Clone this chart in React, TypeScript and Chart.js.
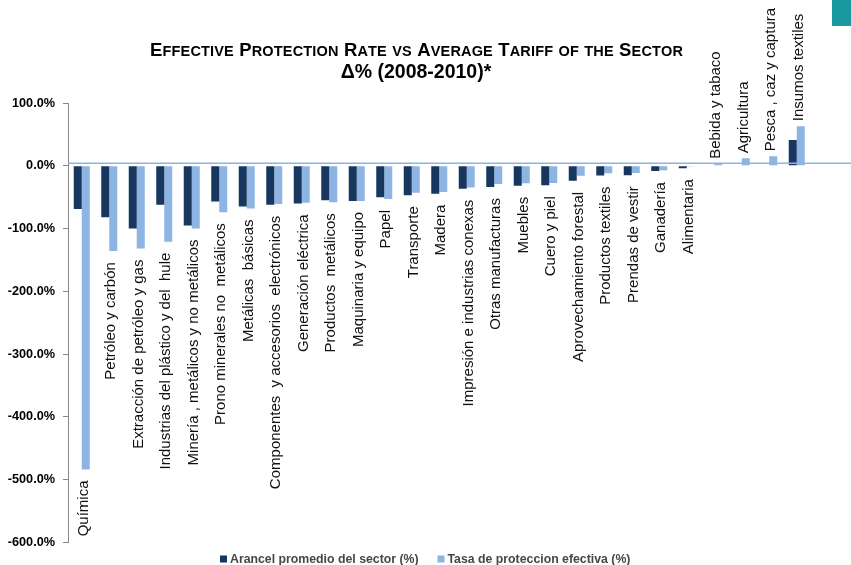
import React, { useEffect, useRef } from "react";
import { Chart, registerables } from "chart.js";

Chart.register(...registerables);

const categories = [
  "Química",
  "Petróleo y carbón",
  "Extracción de petróleo y gas",
  "Industrias del plástico y del  hule",
  "Minería , metálicos y no metálicos",
  "Prono minerales no  metálicos",
  "Metálicas  básicas",
  "Componentes  y accesorios  electrónicos",
  "Generación eléctrica",
  "Productos  metálicos",
  "Maquinaria y equipo",
  "Papel",
  "Transporte",
  "Madera",
  "Impresión e industrias conexas",
  "Otras manufacturas",
  "Muebles",
  "Cuero y piel",
  "Aprovechamiento forestal",
  "Productos textiles",
  "Prendas de vestir",
  "Ganadería",
  "Alimentaria",
  "Bebida y tabaco",
  "Agricultura",
  "Pesca , caz y captura",
  "Insumos textiles",
];

const arancelPromedio = [
  -69, -82, -100, -62, -95, -57, -65, -62, -60, -55, -56, -50, -47, -44.5,
  -36.5, -34, -32, -31, -24, -15.5, -15, -8.5, -3.8, 0, 0, 0, 41,
];

const tasaProteccion = [
  -484, -136, -132, -121, -100, -74, -68, -61, -59, -58, -56, -53, -43, -42,
  -34.5, -29, -28, -27.5, -16, -12, -11.5, -7, -1, 3, 12, 15, 63,
];

const seriesNames = ["Arancel promedio del sector (%)", "Tasa de proteccion efectiva (%)"];
const titleLine1 = "Effective Protection Rate vs Average Tariff of the Sector";
const titleLine2 = "Δ% (2008-2010)*";

const yMin = -600;
const yMax = 100;
const yStep = 100;

const DARK = "#17375E";
const LIGHT = "#8DB4E2";
const FONT = '"Liberation Sans", Arial, sans-serif';

function drawSmallCaps(
  ctx: CanvasRenderingContext2D,
  text: string,
  cx: number,
  baseline: number,
  big: number,
  small: number,
  targetWidth: number
) {
  const chars = Array.from(text).map((ch) => {
    const isLower = ch !== ch.toUpperCase();
    const size = isLower ? small : big;
    const glyph = ch.toUpperCase();
    ctx.font = `bold ${size}px ${FONT}`;
    return { glyph, size, w: ctx.measureText(glyph).width };
  });
  const natural = chars.reduce((s, c) => s + c.w, 0);
  const extra = (targetWidth - natural) / (chars.length - 1);
  let x = cx - targetWidth / 2;
  ctx.textAlign = "left";
  ctx.textBaseline = "alphabetic";
  for (const c of chars) {
    ctx.font = `bold ${c.size}px ${FONT}`;
    ctx.fillText(c.glyph, x, baseline);
    x += c.w + extra;
  }
}

const decorPlugin = {
  id: "decor",
  afterDatasetsDraw(chart: any) {
    const ctx: CanvasRenderingContext2D = chart.ctx;
    const xs = chart.scales.x;
    const ys = chart.scales.y;
    const area = chart.chartArea;
    ctx.save();
    // zero line
    const y0 = ys.getPixelForValue(0) - 2.5;
    ctx.strokeStyle = "#8EB4E3";
    ctx.lineWidth = 1.4;
    ctx.beginPath();
    ctx.moveTo(area.left, y0);
    ctx.lineTo(chart.width, y0);
    ctx.stroke();

    // category labels next to bars
    ctx.fillStyle = "#111111";
    ctx.font = `15px ${FONT}`;
    ctx.textBaseline = "middle";
    categories.forEach((name, i) => {
      const a = arancelPromedio[i];
      const b = tasaProteccion[i];
      const x = xs.getPixelForValue(i) + 2;
      const mn = Math.min(a, b);
      const mx = Math.max(a, b);
      ctx.save();
      if (mn < 0) {
        const y = ys.getPixelForValue(mn) + 11;
        ctx.translate(x, y);
        ctx.rotate(-Math.PI / 2);
        ctx.textAlign = "right";
      } else {
        const y = ys.getPixelForValue(mx) - 5;
        ctx.translate(x, y);
        ctx.rotate(-Math.PI / 2);
        ctx.textAlign = "left";
      }
      ctx.fillText(name, 0, 0);
      ctx.restore();
    });

    // title
    ctx.fillStyle = "#000000";
    drawSmallCaps(ctx, titleLine1, 416.5, 56, 18.5, 14.5, 533);
    ctx.font = `bold 19.5px ${FONT}`;
    ctx.textAlign = "center";
    ctx.textBaseline = "alphabetic";
    ctx.fillText(titleLine2, 416, 78);

    // legend
    const legendItems = [
      { x: 220, color: DARK, text: seriesNames[0] },
      { x: 437.5, color: LIGHT, text: seriesNames[1] },
    ];
    ctx.font = `bold 12.3px ${FONT}`;
    ctx.textAlign = "left";
    ctx.textBaseline = "middle";
    legendItems.forEach((it) => {
      ctx.fillStyle = it.color;
      ctx.fillRect(it.x, 555.5, 7, 7);
      ctx.fillStyle = "#474747";
      ctx.fillText(it.text, it.x + 10, 559.5);
    });

    // teal corner square
    ctx.fillStyle = "#1A98A0";
    ctx.fillRect(832, 0, 19, 26);
    ctx.restore();
  },
};

export default function App() {
  const ref = useRef<HTMLCanvasElement | null>(null);
  useEffect(() => {
    if (!ref.current) return;
    const chart = new Chart(ref.current, {
      type: "bar",
      data: {
        labels: categories,
        datasets: [
          {
            label: seriesNames[0],
            data: arancelPromedio,
            backgroundColor: DARK,
            borderWidth: 0,
            barPercentage: 1,
            categoryPercentage: 0.582,
          },
          {
            label: seriesNames[1],
            data: tasaProteccion,
            backgroundColor: LIGHT,
            borderWidth: 0,
            barPercentage: 1,
            categoryPercentage: 0.582,
          },
        ],
      },
      options: {
        animation: false,
        responsive: false,
        devicePixelRatio: 1,
        layout: { padding: { top: 103, bottom: 22.7, left: 0, right: 40.5 } },
        plugins: {
          legend: { display: false },
          title: { display: false },
          tooltip: { enabled: false },
        },
        scales: {
          x: { display: false, offset: true },
          y: {
            min: yMin,
            max: yMax,
            afterFit: (scale: any) => {
              scale.width = 68;
            },
            border: { display: true, color: "#868686", width: 1 },
            grid: {
              drawOnChartArea: false,
              drawTicks: true,
              tickLength: 5,
              color: "#868686",
            },
            ticks: {
              stepSize: yStep,
              padding: 8,
              color: "#000000",
              font: { family: FONT, size: 12.7, weight: "bold" },
              callback: (v: any) => Number(v).toFixed(1) + "%",
            },
          },
        },
      },
      plugins: [decorPlugin],
    });
    return () => chart.destroy();
  }, []);
  return (
    <div style={{ position: "fixed", left: 0, top: 0, width: 851, height: 565, background: "#fff" }}>
      <canvas ref={ref} width={851} height={565} style={{ display: "block" }} />
    </div>
  );
}
